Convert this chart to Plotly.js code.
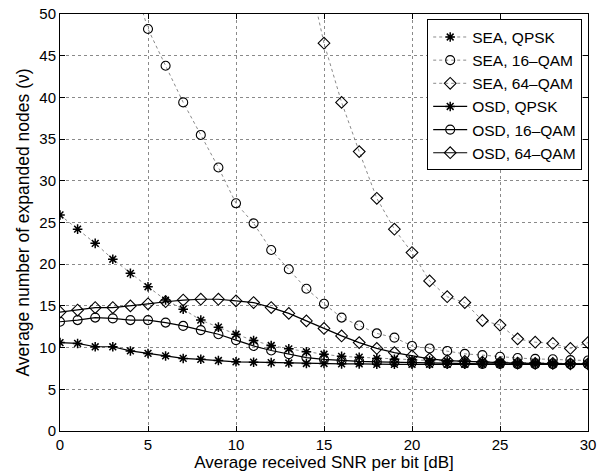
<!DOCTYPE html>
<html>
<head>
<meta charset="utf-8">
<script src="https://cdn.plot.ly/plotly-3.0.1.min.js"></script>
<style>html,body{margin:0;padding:0;background:#fff;}#chart{width:605px;height:472px;}</style>
</head>
<body>
<div id="chart"></div>
<script>
const snr = [0,1,2,3,4,5,6,7,8,9,10,11,12,13,14,15,16,17,18,19,20,21,22,23,24,25,26,27,28,29,30];
const snr16 = [4,5,6,7,8,9,10,11,12,13,14,15,16,17,18,19,20,21,22,23,24,25,26,27,28,29,30];
const snr64 = [14,15,16,17,18,19,20,21,22,23,24,25,26,27,28,29,30];

const seaQpsk = [25.9,24.2,22.5,20.6,18.9,17.3,15.7,14.6,13.3,12.45,11.6,10.85,10.25,9.85,9.5,9.2,8.95,8.85,8.7,8.6,8.55,8.45,8.4,8.35,8.3,8.25,8.2,8.2,8.15,8.1,8.1];
const sea16 = [55,48.2,43.8,39.4,35.5,31.6,27.3,24.9,21.7,19.4,17.05,15.25,13.6,12.65,11.7,11.2,10.2,9.9,9.6,9.25,9.1,8.9,8.75,8.65,8.6,8.5,8.45];
const sea64 = [56,46.5,39.4,33.5,27.9,24.2,21.4,18.0,16.1,15.4,13.25,12.7,11.05,10.65,10.5,9.9,10.6];
const osdQpsk = [10.6,10.5,10.1,10.1,9.6,9.3,9.0,8.7,8.6,8.45,8.3,8.25,8.2,8.15,8.1,8.1,8.05,8.05,8.0,8.0,8.0,8.0,8.0,8.0,8.0,8.0,8.0,8.0,8.0,8.0,8.0];
const osd16 = [13.1,13.3,13.6,13.5,13.3,13.3,13.0,12.6,12.1,11.6,10.9,10.2,9.65,9.2,8.8,8.6,8.45,8.35,8.3,8.25,8.2,8.15,8.1,8.1,8.05,8.05,8.0,8.0,8.0,8.0,8.0];
const osd64 = [14.25,14.5,14.8,14.8,15.0,15.25,15.5,15.7,15.8,15.8,15.6,15.4,14.8,14.1,13.2,12.3,11.4,10.6,9.9,9.4,9.0,8.65,8.45,8.35,8.25,8.2,8.15,8.1,8.1,8.05,8.05];

const names = ["SEA, QPSK","SEA, 16\u2013QAM","SEA, 64\u2013QAM","OSD, QPSK","OSD, 16\u2013QAM","OSD, 64\u2013QAM"];

function tr(x, y, name, symbol, dotted) {
  const star = symbol === 'asterisk-open';
  return {
    x: x, y: y, name: name, type: 'scatter', mode: 'lines+markers',
    line: dotted ? {color: '#8a8a8a', width: 1, dash: 'dot'} : {color: '#000', width: 1.2},
    marker: {symbol: symbol, size: star ? 8 : 9, color: '#000',
             line: {color: '#000', width: star ? 1.5 : 1.1}},
    cliponaxis: true
  };
}

const data = [
  tr(snr, seaQpsk, names[0], 'asterisk-open', true),
  tr(snr16, sea16, names[1], 'circle-open', true),
  tr(snr64, sea64, names[2], 'diamond-open', true),
  tr(snr, osdQpsk, names[3], 'asterisk-open', false),
  tr(snr, osd16, names[4], 'circle-open', false),
  tr(snr, osd64, names[5], 'diamond-open', false)
];

const axisCommon = {
  showline: true, linecolor: '#000', linewidth: 1, mirror: 'ticks',
  ticks: 'inside', ticklen: 5, tickcolor: '#000',
  showgrid: true, gridcolor: '#8a8a8a', griddash: 'dot', gridwidth: 1,
  zeroline: false, tickfont: {size: 15, color: '#000'}
};

const layout = {
  width: 605, height: 472,
  margin: {l: 60, r: 17, t: 14, b: 41},
  paper_bgcolor: '#fff', plot_bgcolor: '#fff',
  font: {family: 'Liberation Sans, Arial, sans-serif', color: '#000', size: 15},
  xaxis: Object.assign({}, axisCommon, {
    range: [0, 30], dtick: 5, tick0: 0, ticklabelstandoff: 0,
    title: {text: 'Average received SNR per bit [dB]', font: {size: 17}, standoff: 1}
  }),
  yaxis: Object.assign({}, axisCommon, {
    range: [0, 50], dtick: 5, tick0: 0,
    title: {text: 'Average number of expanded nodes (\u03bd)', font: {size: 17.5}, standoff: 5}
  }),
  showlegend: true,
  legend: {
    x: 0.989, y: 0.987, xanchor: 'right', yanchor: 'top',
    bgcolor: '#fff', bordercolor: '#000', borderwidth: 1,
    font: {size: 15.5, color: '#000'}, tracegroupgap: 0, itemwidth: 34
  }
};

Plotly.newPlot('chart', data, layout, {displayModeBar: false, staticPlot: true});
</script>
</body>
</html>
